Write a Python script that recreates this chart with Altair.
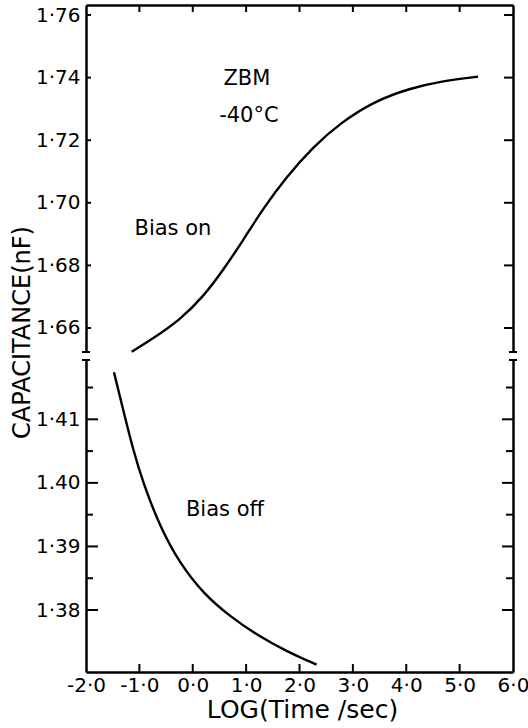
import altair as alt
import pandas as pd

# ---- data ----
on_x = [-1.144, -0.740, -0.240, 0.197, 0.571, 0.946, 1.320, 1.758, 2.257, 2.757, 3.380, 4.067, 4.691, 5.346]
on_y = [1.6524, 1.6567, 1.6626, 1.6700, 1.6785, 1.6881, 1.6982, 1.7083, 1.7179, 1.7254, 1.7323, 1.7366, 1.7390, 1.7403]
off_x = [-1.476, -1.301, -1.114, -0.927, -0.614, -0.240, 0.197, 0.697, 1.197, 1.758, 2.320]
off_y = [1.4174, 1.4114, 1.4051, 1.3999, 1.3931, 1.3873, 1.3826, 1.3790, 1.3761, 1.3735, 1.3714]

y_upper_ticks = [1.66, 1.68, 1.70, 1.72, 1.74, 1.76]
y_lower_ticks = [1.38, 1.39, 1.40, 1.41]
y_lower_minor = [1.385, 1.395, 1.405, 1.415]
x_tick_labels = [-2, -1, 0, 1, 2, 3, 4, 5, 6]
x_inner_ticks = [-1, 0, 1, 2, 3, 4, 5]

ann_text = ["ZBM", "-40°C", "Bias on", "Bias off"]
ann_x = [1.015, 1.052, -0.371, 0.603]
ann_y = [1.7396, 1.7277, 1.6915, 1.3957]

break_lo = 1.41933
break_hi = 1.65233

W, H = 427, 667
FONT = "DejaVu Sans"

curves = pd.concat([
    pd.DataFrame({"t": on_x, "c": on_y, "s": "Bias on"}),
    pd.DataFrame({"t": off_x, "c": off_y, "s": "Bias off"}),
])

xs = alt.Scale(domain=[-2, 6], zero=False, nice=False)
ys = alt.Scale(domain=[1.37025, break_lo, break_hi, 1.7632], range=[H, 355, 347, 0],
               zero=False, nice=False)

left_axis = alt.Axis(
    values=y_upper_ticks + y_lower_ticks, ticks=False, grid=False, domain=True,
    domainColor="black", domainWidth=2.5, zindex=0, labelFlush=False,
    labelExpr="datum.value == 1.4 ? '1.40' : replace(format(datum.value, '.2f'), '.', '·')",
    labelFont=FONT, labelFontSize=20, labelColor="black", labelPadding=6,
    title="CAPACITANCE(nF)", titleFont=FONT, titleFontSize=24, titleFontWeight="normal",
    titleColor="black", titleX=-64, titleY=327, titleAngle=-90,
    titleAlign="center", titleBaseline="middle",
)
bottom_axis = alt.Axis(
    values=x_tick_labels, ticks=False, grid=False, domain=True,
    domainColor="black", domainWidth=2.5, zindex=0, labelFlush=False,
    labelExpr="replace(replace(format(datum.value, '.1f'), '.', '·'), '−', '-')",
    labelFont=FONT, labelFontSize=20, labelColor="black", labelPadding=3,
    labelOverlap=False,
    title="LOG(Time /sec)", titleFont=FONT, titleFontSize=25, titleFontWeight="normal",
    titleColor="black", titleX=216, titleY=37, titleAlign="center", titleBaseline="middle",
)
top_axis = alt.Axis(orient="top", labels=False, ticks=False, grid=False, domain=True,
                    domainColor="black", domainWidth=2.5, title=None, zindex=0)
right_axis = alt.Axis(orient="right", labels=False, ticks=False, grid=False, domain=True,
                      domainColor="black", domainWidth=2.5, title=None, zindex=0)

lines = alt.Chart(curves).mark_line(color="black", strokeWidth=2.4, interpolate="basis").encode(
    x=alt.X("t:Q", scale=xs, axis=bottom_axis),
    y=alt.Y("c:Q", scale=ys, axis=left_axis),
    detail="s:N",
)


def ytick_rule(vals, x0, x1, axis=None):
    return alt.Chart(pd.DataFrame({"v": vals})).mark_rule(color="black", strokeWidth=2).encode(
        y=alt.Y("v:Q", scale=ys, axis=axis), x=alt.value(x0), x2=alt.value(x1))


def xtick_rule(vals, y0, y1, axis=None):
    return alt.Chart(pd.DataFrame({"v": vals})).mark_rule(color="black", strokeWidth=2).encode(
        x=alt.X("v:Q", scale=xs, axis=axis), y=alt.value(y0), y2=alt.value(y1))


ticks = [
    ytick_rule(y_upper_ticks, 0, 5),
    ytick_rule(y_lower_ticks, 0, 12),
    ytick_rule(y_lower_minor, 0, 7),
    ytick_rule(y_upper_ticks, W - 9, W, axis=right_axis),
    ytick_rule(y_lower_ticks, W - 11, W),
    ytick_rule(y_lower_minor, W - 7, W),
    xtick_rule(x_inner_ticks, H, H - 8),
    xtick_rule(x_inner_ticks, 0, 7, axis=top_axis),
]

one = pd.DataFrame({"a": [0]})
gap_l = alt.Chart(one).mark_rect(color="white").encode(
    y=alt.YDatum(break_lo, type="quantitative", scale=ys, axis=None),
    y2=alt.Y2Datum(break_hi), x=alt.value(-5), x2=alt.value(5))
gap_r = alt.Chart(one).mark_rect(color="white").encode(
    y=alt.YDatum(break_lo, type="quantitative", scale=ys, axis=None),
    y2=alt.Y2Datum(break_hi), x=alt.value(W - 5), x2=alt.value(W + 5))

caps = []
for v in [break_lo, break_hi]:
    caps.append(alt.Chart(one).mark_rule(color="black", strokeWidth=2).encode(
        y=alt.YDatum(v, type="quantitative", scale=ys, axis=None), x=alt.value(-4), x2=alt.value(4)))
    caps.append(alt.Chart(one).mark_rule(color="black", strokeWidth=2).encode(
        y=alt.YDatum(v, type="quantitative", scale=ys, axis=None), x=alt.value(W - 4), x2=alt.value(W + 4)))

ann = alt.Chart(pd.DataFrame({"label": ann_text, "x": ann_x, "y": ann_y})).mark_text(
    font=FONT, fontSize=21, color="black", align="center", baseline="middle").encode(
    x=alt.X("x:Q", scale=xs, axis=None), y=alt.Y("y:Q", scale=ys, axis=None), text="label:N")

chart = alt.layer(lines, *ticks, gap_l, gap_r, *caps, ann).resolve_axis(
    x="independent", y="independent"
).properties(
    width=W, height=H, autosize="none",
    padding={"left": 86, "top": 5, "right": 15, "bottom": 56},
    background="white",
).configure_view(stroke=None)

chart.save("out.html", embed_options={"renderer": "svg", "actions": False})
